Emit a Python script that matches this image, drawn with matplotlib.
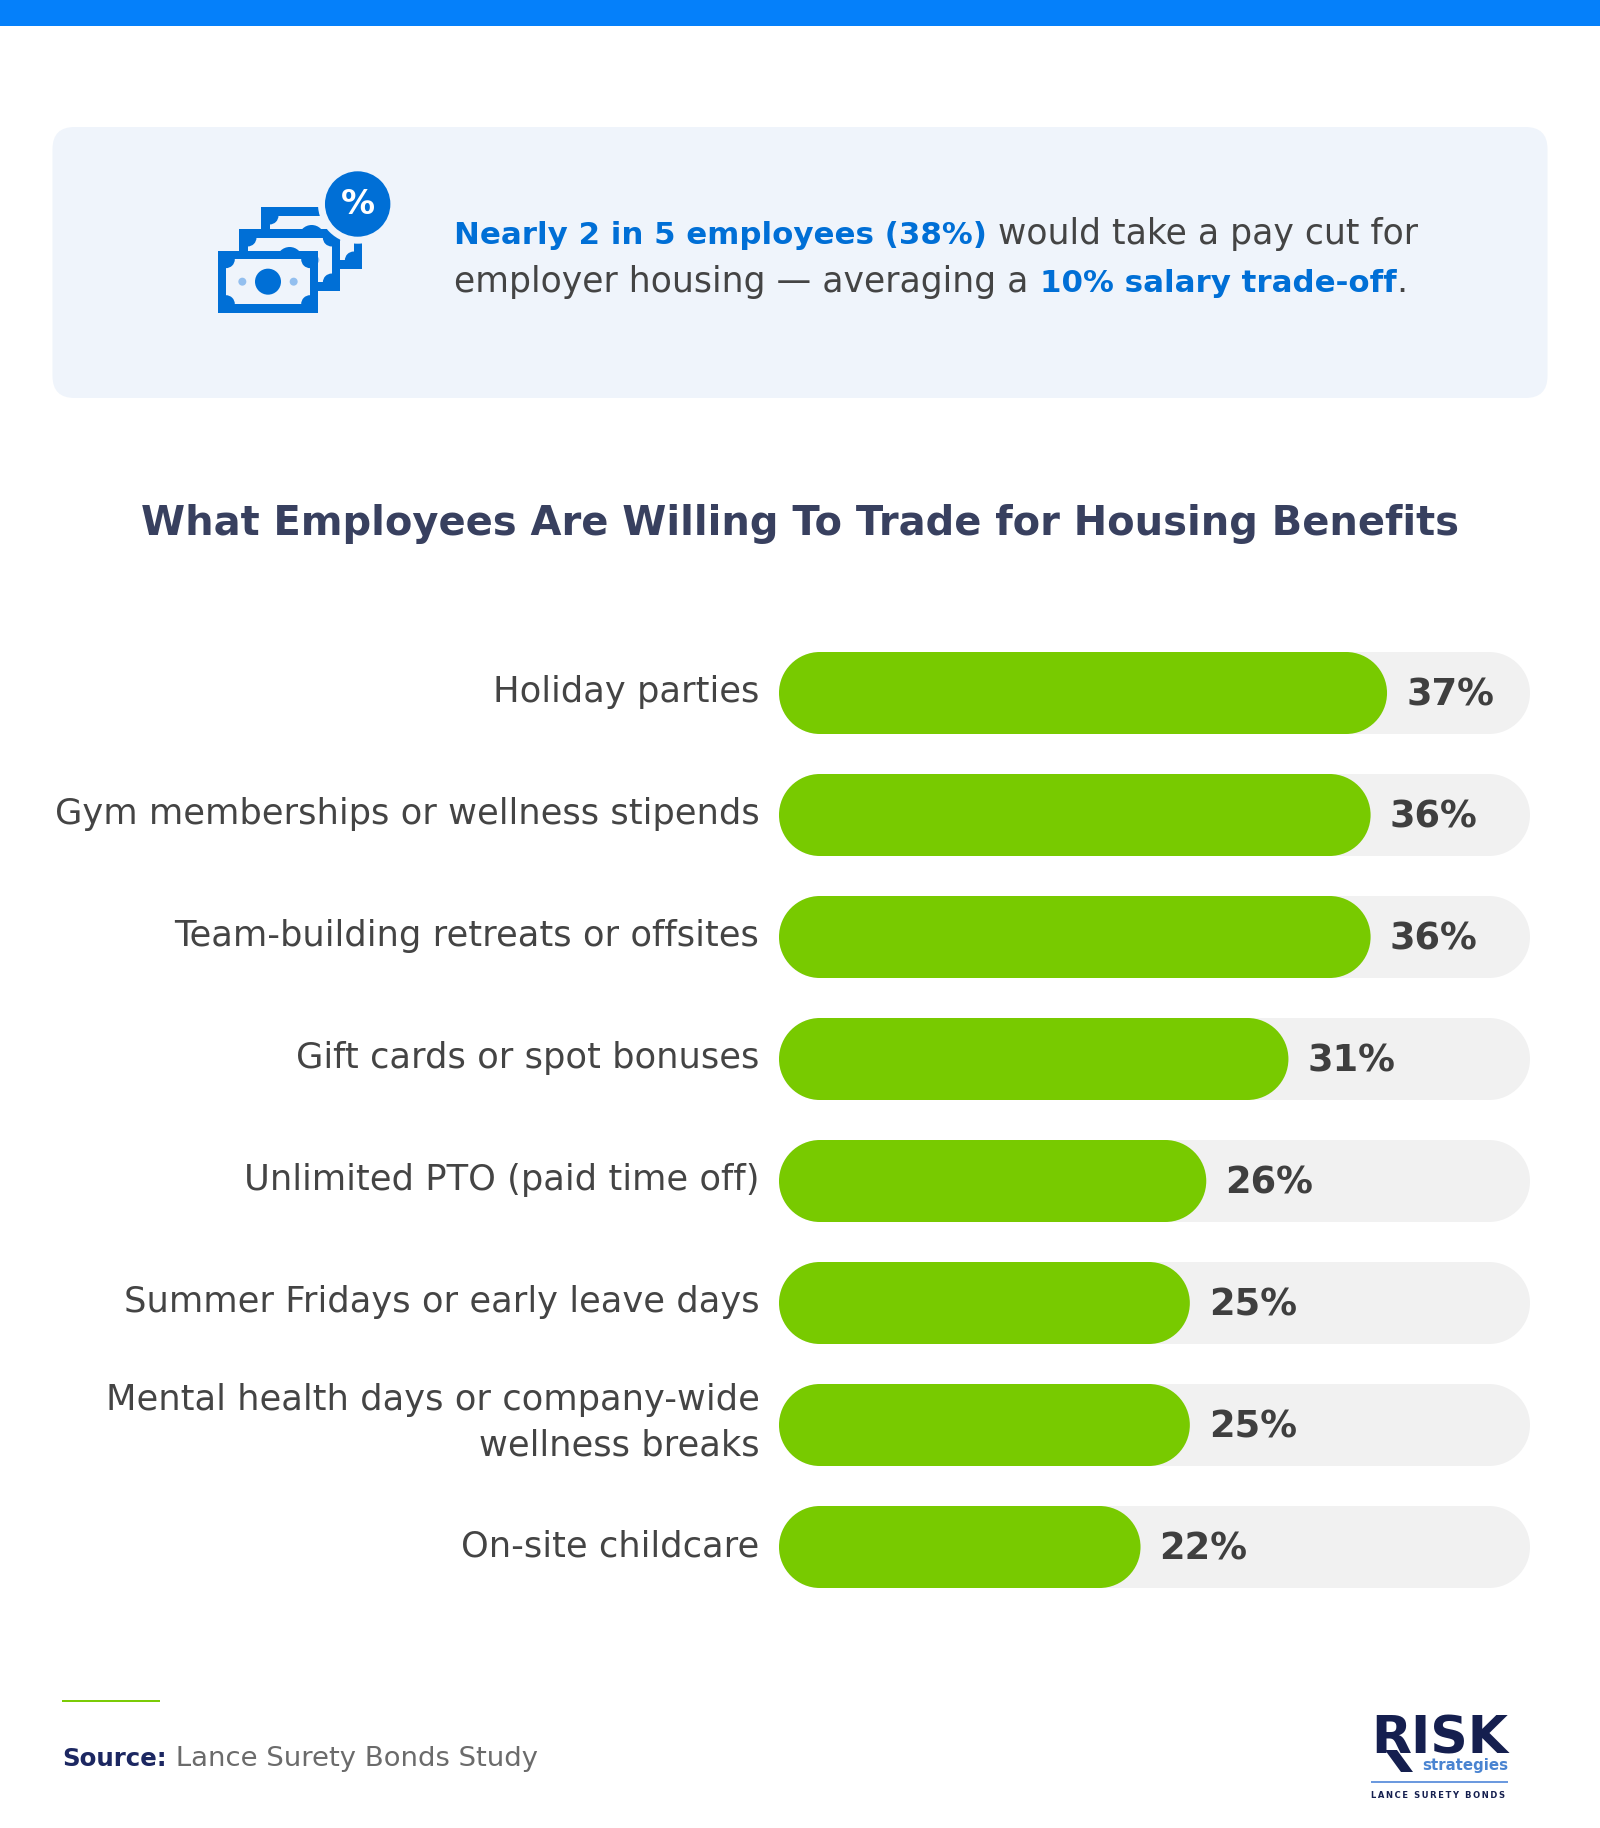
import matplotlib
matplotlib.use("Agg")
import matplotlib.pyplot as plt
from matplotlib.patches import FancyBboxPatch, Rectangle, Circle, Polygon, PathPatch
from matplotlib.path import Path
from matplotlib.transforms import ScaledTranslation

W, H = 1600, 1828
categories = ["Holiday parties", "Gym memberships or wellness stipends",
              "Team-building retreats or offsites", "Gift cards or spot bonuses",
              "Unlimited PTO (paid time off)", "Summer Fridays or early leave days",
              "Mental health days or company-wide\nwellness breaks", "On-site childcare"]
values = [37, 36, 36, 31, 26, 25, 25, 22]
track_max = 45.7

FONT = "DejaVu Sans"
BLUE = "#006FD6"
PANEL = "#EFF4FB"
GREEN = "#78CA00"
TRACK = "#F1F1F1"
DARK = "#444444"
NAVY = "#151F4F"

fig = plt.figure(figsize=(W/100, H/100), dpi=100, facecolor="white")
bg = fig.add_axes([0, 0, 1, 1])
bg.set_xlim(0, W); bg.set_ylim(H, 0); bg.axis("off")
renderer = fig.canvas.get_renderer()

def px(v):
    return v*0.72

def fit(t, target):
    t.set_fontsize(t.get_fontsize()*target/t.get_window_extent(renderer).width)
    return t

def size_for(s, target, weight="normal"):
    t = bg.text(0, 0, s, fontsize=20, family=FONT, fontweight=weight)
    fit(t, target)
    size = t.get_fontsize()
    t.remove()
    return size

def runs(x, y, parts):
    for s, color, weight, size in parts:
        t = bg.text(x, y, s, color=color, fontweight=weight, fontsize=size,
                    family=FONT, va="baseline", ha="left")
        x += t.get_window_extent(renderer).width

# top band and callout
bg.add_patch(Rectangle((0, 0), W, 25.5, color="#0580FA", lw=0))
bg.add_patch(FancyBboxPatch((52.5, 127), 1495, 271, boxstyle="round,pad=0,rounding_size=22",
                            fc=PANEL, ec="none"))

# icon, drawn from the three bills back to front
ICON = BLUE
def Z(x, y):
    return 180 + x/3, 150 + y/3
def bill(dx, dy):
    x0, y0 = Z(113+dx, 303+dy); x1, y1 = Z(415+dx, 488+dy)
    bg.add_patch(Rectangle((x0, y0), x1-x0, y1-y0, fc=ICON, ec="none"))
    ix0, iy0 = Z(138+dx, 328+dy); ix1, iy1 = Z(390+dx, 462+dy)
    inner = Rectangle((ix0, iy0), ix1-ix0, iy1-iy0, fc=PANEL, ec="none")
    bg.add_patch(inner)
    for cx, cy in [(ix0, iy0), (ix1, iy0), (ix0, iy1), (ix1, iy1)]:
        notch = Circle((cx, cy), 8.8, fc=ICON, ec="none")
        bg.add_patch(notch)
        notch.set_clip_path(inner)
    bg.add_patch(Circle(Z(264+dx, 395+dy), 13, fc=ICON, ec="none"))
    bg.add_patch(Circle(Z(187+dx, 395+dy), 4, fc="#93BFEF", ec="none"))
    bg.add_patch(Circle(Z(341+dx, 395+dy), 4, fc="#93BFEF", ec="none"))
bill(131, -131)
bill(65, -65)
bill(0, 0)
c = Z(533, 162)
bg.add_patch(Circle(c, 39.7, fc=PANEL, ec="none"))
bg.add_patch(Circle(c, 32.7, fc=ICON, ec="none"))
bg.text(c[0], c[1]+1, "%", color="white", fontsize=px(34), fontweight="bold",
        family=FONT, ha="center", va="center")

# callout text
S = size_for("Nearly 2 in 5 employees (38%)", 534, "bold")
R = S*1.12
runs(454.5, 244, [("Nearly 2 in 5 employees (38%)", BLUE, "bold", S),
                  (" would take a pay cut for", DARK, "normal", R)])
runs(454.5, 292, [("employer housing — averaging a ", DARK, "normal", R),
                  ("10% salary trade-off", BLUE, "bold", S), (".", DARK, "normal", R)])

# title
TITLE = "What Employees Are Willing To Trade for Housing Benefits"
bg.text(800, 535, TITLE, color="#38405F", fontsize=size_for(TITLE, 1320, "bold"),
        fontweight="bold", family=FONT, ha="center", va="baseline")

# bar chart
top, bottom, left, right = 632, 1608, 779, 1530
ax = fig.add_axes([left/W, 1-bottom/H, (right-left)/W, (bottom-top)/H])
ax.set_xlim(0, track_max); ax.set_ylim(len(values)-0.5, -0.5)
ax.patch.set_alpha(0)
for s in ax.spines.values():
    s.set_visible(False)
ux = (right-left)/track_max
uy = (bottom-top)/len(values)
bar_h = 82/uy
rx = 41/ux
ry = bar_h/2
KAPPA = 0.5523

def pill(v, i):
    """Stadium from 0 to v on row i, in data units."""
    y0, y1 = i-ry, i+ry
    kx, ky = KAPPA*rx, KAPPA*ry
    verts = [(rx, y0), (v-rx, y0),
             (v-rx+kx, y0), (v, i-ky), (v, i),
             (v, i+ky), (v-rx+kx, y1), (v-rx, y1),
             (rx, y1),
             (rx-kx, y1), (0, i+ky), (0, i),
             (0, i-ky), (rx-kx, y0), (rx, y0)]
    codes = [Path.MOVETO, Path.LINETO] + [Path.CURVE4]*6 + [Path.LINETO] + [Path.CURVE4]*6
    return Path(verts, codes)

value_size = size_for("37%", 88, "bold")
for i, v in enumerate(values):
    for w, col in [(track_max, TRACK), (v, GREEN)]:
        ax.add_patch(PathPatch(pill(w, i), fc=col, ec="none"))
    ax.annotate(f"{v}%", (v, i), xytext=(px(19), px(2.5)), textcoords="offset points", va="center_baseline",
                ha="left", fontsize=value_size, fontweight="bold", family=FONT, color="#3F3F3F")
ax.set_xticks([])
ax.set_yticks(range(len(categories)))
label_size = size_for(categories[1], 705)
ax.set_yticklabels(categories, fontsize=label_size, family=FONT, color=DARK, ma="right", linespacing=1.42)
ax.tick_params(axis="y", length=0, pad=px(19.5))
for lab in ax.get_yticklabels():
    up = 8/72 if "\n" in lab.get_text() else 3/72
    lab.set_transform(lab.get_transform() + ScaledTranslation(0, up, fig.dpi_scale_trans))

# footer
bg.plot([62, 160], [1700.5, 1700.5], color="#78CA00", lw=1.4, solid_capstyle="butt")
SRC_A, SRC_B = "Source:", " Lance Surety Bonds Study"
runs(62, 1766, [(SRC_A, "#1C2761", "bold", size_for(SRC_A, 105, "bold")),
                (SRC_B, "#6B6B6B", "normal", size_for(SRC_B, 370))])

# logo
t = bg.text(1371, 1753, "RISK", color=NAVY, fontweight="bold", family=FONT, fontsize=40, va="baseline", ha="left")
fit(t, 137)
bg.add_patch(Polygon([(1385, 1750), (1397, 1750), (1413, 1772), (1401, 1772)], fc=NAVY, ec="none"))
t = bg.text(1508, 1770, "strategies", color="#4A84D1", fontweight="bold", family=FONT, fontsize=16, va="baseline", ha="right")
fit(t, 86)
bg.plot([1371, 1508], [1782, 1782], color="#4F86D9", lw=1.2, solid_capstyle="butt")
t = bg.text(1371, 1798, "\u2009".join("LANCE SURETY BONDS"), color=NAVY, fontweight="bold", family=FONT, fontsize=7, va="baseline", ha="left")
fit(t, 137)

fig.savefig("out.png", dpi=100, facecolor="white")
